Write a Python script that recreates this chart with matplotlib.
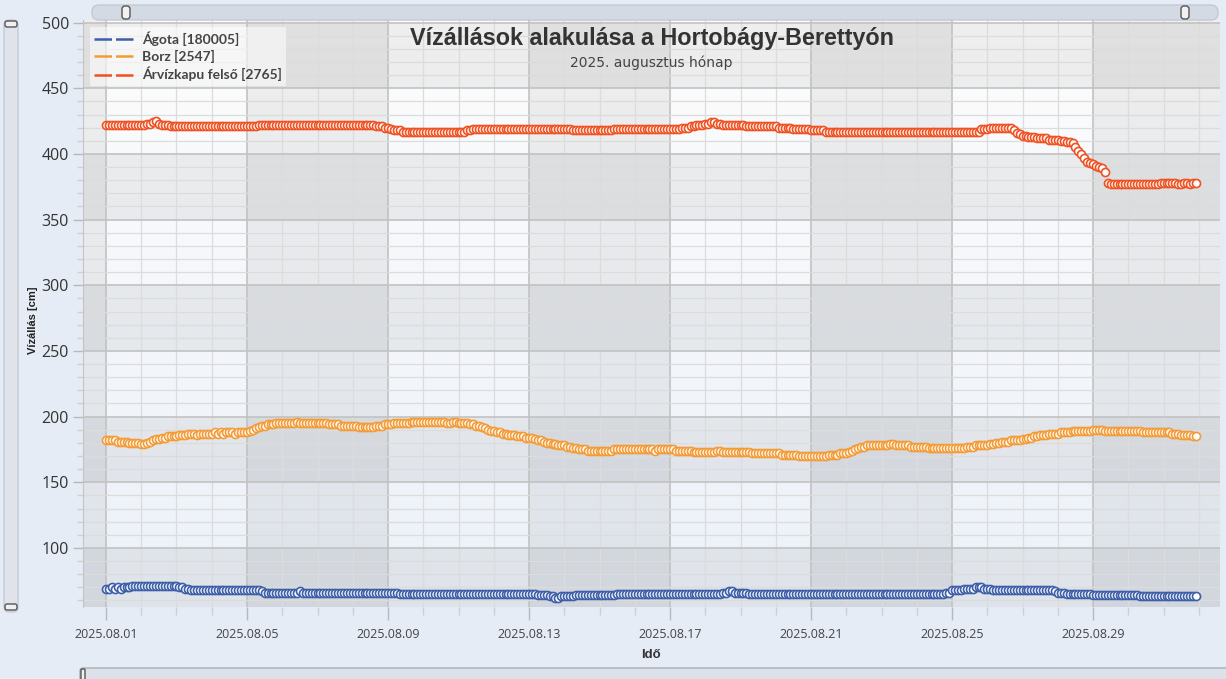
import matplotlib
matplotlib.use('Agg')
import matplotlib.pyplot as plt
import matplotlib.dates as mdates
from matplotlib.lines import Line2D
from matplotlib.patches import FancyBboxPatch
from matplotlib.ticker import MultipleLocator
import numpy as np
import pandas as pd

# 2-hourly readings, 2025.08.01 00:00 -> 2025.08.31 22:00 (12 values per day)
times = pd.date_range('2025-08-01 00:00', periods=372, freq='2h')

agota = [
    69, 69, 70, 69, 70, 69, 70, 70, 70, 71, 71, 71,
    71, 71, 71, 71, 71, 71, 71, 71, 71, 71, 71, 71,
    71, 70, 70, 69, 69, 68, 68, 68, 68, 68, 68, 68,
    68, 68, 68, 68, 68, 68, 68, 68, 68, 68, 68, 68,
    68, 68, 68, 68, 68, 67, 66, 66, 66, 66, 66, 66,
    66, 66, 66, 66, 66, 66, 67, 66, 66, 66, 66, 66,
    66, 66, 66, 66, 66, 66, 66, 66, 66, 66, 66, 66,
    66, 66, 66, 66, 66, 66, 66, 66, 66, 66, 66, 66,
    66, 66, 66, 66, 65, 65, 65, 65, 65, 65, 65, 65,
    65, 65, 65, 65, 65, 65, 65, 65, 65, 65, 65, 65,
    65, 65, 65, 65, 65, 65, 65, 65, 65, 65, 65, 65,
    65, 65, 65, 65, 65, 65, 65, 65, 65, 65, 65, 65,
    65, 65, 65, 64, 64, 64, 64, 63, 63, 62, 62, 63,
    63, 63, 63, 63, 64, 64, 64, 64, 64, 64, 64, 64,
    64, 64, 64, 64, 64, 64, 65, 65, 65, 65, 65, 65,
    65, 65, 65, 65, 65, 65, 65, 65, 65, 65, 65, 65,
    65, 65, 65, 65, 65, 65, 65, 65, 65, 65, 65, 65,
    65, 65, 65, 65, 65, 65, 66, 66, 67, 67, 66, 66,
    66, 66, 66, 65, 65, 65, 65, 65, 65, 65, 65, 65,
    65, 65, 65, 65, 65, 65, 65, 65, 65, 65, 65, 65,
    65, 65, 65, 65, 65, 65, 65, 65, 65, 65, 65, 65,
    65, 65, 65, 65, 65, 65, 65, 65, 65, 65, 65, 65,
    65, 65, 65, 65, 65, 65, 65, 65, 65, 65, 65, 65,
    65, 65, 65, 65, 65, 65, 65, 65, 65, 65, 66, 66,
    68, 68, 68, 68, 69, 69, 69, 69, 70, 70, 70, 69,
    69, 69, 68, 68, 68, 68, 68, 68, 68, 68, 68, 68,
    68, 68, 68, 68, 68, 68, 68, 68, 68, 68, 68, 67,
    66, 66, 66, 65, 65, 65, 65, 65, 65, 65, 65, 65,
    64, 64, 64, 64, 64, 64, 64, 64, 64, 64, 64, 64,
    64, 64, 64, 64, 63, 63, 63, 63, 63, 63, 63, 63,
    63, 63, 63, 63, 63, 63, 63, 63, 63, 63, 63, 63,
]

borz = [
    182, 182, 182, 182, 181, 181, 181, 181, 180, 180, 180, 180,
    179, 179, 180, 181, 182, 183, 183, 184, 184, 185, 185, 185,
    185, 186, 186, 186, 187, 187, 187, 186, 187, 187, 187, 187,
    187, 188, 187, 188, 187, 188, 188, 188, 187, 188, 188, 188,
    188, 189, 190, 191, 192, 193, 193, 194, 194, 194, 195, 195,
    195, 195, 195, 195, 195, 196, 195, 195, 195, 195, 195, 195,
    195, 195, 195, 195, 194, 194, 194, 194, 193, 193, 193, 193,
    193, 193, 192, 192, 192, 192, 192, 192, 193, 193, 193, 194,
    194, 194, 195, 195, 195, 195, 195, 195, 196, 196, 196, 196,
    196, 196, 196, 196, 196, 196, 196, 196, 195, 195, 196, 196,
    195, 195, 195, 195, 194, 194, 193, 193, 192, 191, 190, 189,
    189, 188, 188, 187, 187, 186, 186, 186, 185, 185, 185, 184,
    184, 184, 183, 182, 182, 181, 180, 180, 179, 179, 178, 178,
    178, 177, 177, 176, 176, 175, 175, 175, 174, 174, 174, 174,
    174, 174, 174, 174, 174, 175, 175, 175, 175, 175, 175, 175,
    175, 175, 175, 175, 175, 175, 175, 174, 175, 175, 175, 175,
    175, 175, 174, 174, 174, 174, 174, 174, 173, 173, 173, 173,
    173, 173, 173, 173, 174, 174, 173, 173, 173, 173, 173, 173,
    173, 173, 173, 173, 172, 172, 172, 172, 172, 172, 172, 172,
    172, 172, 171, 171, 171, 171, 171, 171, 170, 170, 170, 170,
    170, 170, 170, 170, 170, 170, 171, 171, 171, 171, 172, 172,
    172, 173, 174, 175, 176, 177, 177, 178, 178, 178, 178, 178,
    178, 178, 178, 179, 179, 178, 178, 178, 178, 178, 177, 177,
    177, 177, 177, 177, 176, 176, 176, 176, 176, 176, 176, 176,
    176, 176, 176, 176, 176, 177, 177, 177, 178, 178, 178, 178,
    178, 179, 179, 180, 180, 181, 181, 181, 182, 182, 182, 182,
    183, 183, 184, 184, 185, 185, 186, 186, 186, 187, 187, 187,
    187, 188, 188, 188, 188, 189, 189, 189, 189, 189, 189, 189,
    190, 190, 190, 190, 189, 189, 189, 189, 189, 189, 189, 189,
    189, 189, 189, 189, 189, 188, 188, 188, 188, 188, 188, 188,
    188, 188, 188, 187, 187, 187, 186, 186, 186, 186, 185, 185,
]

arvizkapu = [
    422, 422, 422, 422, 422, 422, 422, 422, 422, 422, 422, 422,
    422, 422, 423, 423, 424, 425, 423, 422, 422, 422, 421, 421,
    421, 421, 421, 421, 421, 421, 421, 421, 421, 421, 421, 421,
    421, 421, 421, 421, 421, 421, 421, 421, 421, 421, 421, 421,
    421, 421, 421, 421, 422, 422, 422, 422, 422, 422, 422, 422,
    422, 422, 422, 422, 422, 422, 422, 422, 422, 422, 422, 422,
    422, 422, 422, 422, 422, 422, 422, 422, 422, 422, 422, 422,
    422, 422, 422, 422, 422, 422, 422, 422, 421, 421, 421, 420,
    420, 419, 418, 418, 418, 417, 417, 417, 417, 417, 417, 417,
    417, 417, 417, 417, 417, 417, 417, 417, 417, 417, 417, 417,
    417, 417, 417, 418, 418, 419, 419, 419, 419, 419, 419, 419,
    419, 419, 419, 419, 419, 419, 419, 419, 419, 419, 419, 419,
    419, 419, 419, 419, 419, 419, 419, 419, 419, 419, 419, 419,
    419, 419, 419, 418, 418, 418, 418, 418, 418, 418, 418, 418,
    418, 418, 418, 418, 418, 419, 419, 419, 419, 419, 419, 419,
    419, 419, 419, 419, 419, 419, 419, 419, 419, 419, 419, 419,
    419, 419, 419, 419, 420, 420, 420, 421, 421, 422, 422, 422,
    423, 423, 424, 424, 423, 423, 422, 422, 422, 422, 422, 422,
    422, 422, 421, 421, 421, 421, 421, 421, 421, 421, 421, 421,
    421, 420, 420, 420, 420, 420, 419, 419, 419, 419, 419, 419,
    418, 418, 418, 418, 418, 417, 417, 417, 417, 417, 417, 417,
    417, 417, 417, 417, 417, 417, 417, 417, 417, 417, 417, 417,
    417, 417, 417, 417, 417, 417, 417, 417, 417, 417, 417, 417,
    417, 417, 417, 417, 417, 417, 417, 417, 417, 417, 417, 417,
    417, 417, 417, 417, 417, 417, 417, 417, 417, 417, 419, 419,
    419, 420, 420, 420, 420, 420, 420, 420, 420, 418, 416, 415,
    414, 414, 413, 413, 413, 412, 412, 412, 412, 411, 411, 411,
    411, 410, 410, 409, 409, 408, 405, 402, 400, 397, 394, 393,
    392, 391, 390, 389, 386, 378, 377, 377, 377, 377, 377, 377,
    377, 377, 377, 377, 377, 377, 377, 377, 377, 377, 377, 378,
    378, 378, 378, 378, 378, 377, 377, 378, 378, 377, 378, 378,
]

series_names = ['Ágota [180005]', 'Borz [2547]', 'Árvízkapu felső [2765]']
series_colors = ['#3d5fa8', '#f39b36', '#ef5222']
tick_days = ['2025-08-01', '2025-08-05', '2025-08-09', '2025-08-13',
             '2025-08-17', '2025-08-21', '2025-08-25', '2025-08-29']
y_ticks = [100, 150, 200, 250, 300, 350, 400, 450, 500]

W, H = 1226, 679
fig = plt.figure(figsize=(W / 100, H / 100), dpi=100, facecolor='#e6ecf6')
ax = fig.add_axes([83 / W, 72 / H, 1137 / W, 587 / H])

for vals, name, col in zip([agota, borz, arvizkapu], series_names, series_colors):
    ax.plot(times, vals, ls='none', marker='o', ms=5.8, mfc='white',
            mec=col, mew=1.2, zorder=3)

t0 = mdates.date2num(np.datetime64('2025-08-01'))
x0, x1 = t0 - 0.652, t0 + 31.6
y0, y1 = 55, 502

# background gradient + alternating bands
grad = np.linspace([0.99, 0.99, 0.99], [0.925, 0.945, 0.975], 200).reshape(200, 1, 3)
ax.imshow(grad, extent=[x0, x1, y0, y1], aspect='auto', zorder=0.1)
ax.axvspan(x0, t0, color='black', alpha=0.055, lw=0, zorder=0.2)
for d in [4, 12, 20, 28]:
    ax.axvspan(t0 + d, min(t0 + d + 4, x1), color='black', alpha=0.055, lw=0, zorder=0.2)
for lo in [50, 150, 250, 350, 450]:
    ax.axhspan(max(lo, y0), lo + 50, color='black', alpha=0.055, lw=0, zorder=0.2)

ax.set_xlim(x0, x1)
ax.set_ylim(y0, y1)

ax.set_xticks([mdates.date2num(np.datetime64(d)) for d in tick_days])
ax.xaxis.set_major_formatter(mdates.DateFormatter('%Y.%m.%d'))
ax.xaxis.set_minor_locator(mdates.DayLocator())
ax.set_yticks(y_ticks)
ax.yaxis.set_minor_locator(MultipleLocator(10))

ax.set_axisbelow(True)
ax.grid(which='major', color='#c2c2c2', lw=1.2)
ax.grid(which='minor', color='#dcdcdc', lw=0.9)

for s in ['top', 'right', 'bottom']:
    ax.spines[s].set_visible(False)
ax.spines['left'].set_color('#c4c4c4')

ax.tick_params(axis='x', which='major', length=9, width=1, color='#b8b8b8',
               pad=6, labelsize=9, labelcolor='#444444')
ax.tick_params(axis='x', which='minor', length=6, width=1, color='#cfcfcf')
ax.tick_params(axis='y', which='major', length=7, width=1, color='#b8b8b8',
               pad=3, labelsize=11.5, labelcolor='#333333')
ax.tick_params(axis='y', which='minor', length=4, width=1, color='#cfcfcf')
for lab in ax.get_xticklabels() + ax.get_yticklabels():
    lab.set_family('Open Sans')

ax.text(0.5, 0.969, 'Vízállások alakulása a Hortobágy-Berettyón', transform=ax.transAxes,
        ha='center', va='center', fontsize=16.8, fontweight='bold',
        family='Liberation Sans', color='#333333', zorder=5)
ax.text(0.5, 0.928, '2025. augusztus hónap', transform=ax.transAxes,
        ha='center', va='center', fontsize=10, family='DejaVu Sans',
        color='#444444', zorder=5)

fig.text(33 / W, 1 - 320 / H, 'Vízállás [cm]', rotation=90, ha='center', va='center',
         fontsize=8, fontweight='bold', family='Liberation Sans', color='#222222')
fig.text(651 / W, 1 - 655 / H, 'Idő', ha='center', va='center',
         fontsize=9.5, fontweight='bold', family='Liberation Sans', color='#333333')

handles = [Line2D([], [], color=c, lw=1.8, ls=(0, (7, 1.6))) for c in series_colors]
leg = ax.legend(handles, series_names, loc='upper left', bbox_to_anchor=(0.0, 1.0),
                frameon=True, facecolor='white', framealpha=0.55, edgecolor='none',
                fancybox=False, handlelength=2.9, handletextpad=0.55, labelspacing=0.3,
                borderpad=0.3, prop={'family': 'Lato', 'weight': 'bold', 'size': 10})
for t in leg.get_texts():
    t.set_color('#444444')
leg.set_zorder(6)


def rbox(x, y, w, h, fc, ec, r):
    p = FancyBboxPatch((x, H - y - h), w, h, boxstyle=f'round,pad=0,rounding_size={r}',
                       fc=fc, ec=ec, lw=1, transform=None)
    fig.add_artist(p)


# scrollbars around the chart
rbox(92, 5, 1126, 15, '#d4dae4', '#c2c9d4', 7)
rbox(122, 6, 8, 13, '#f2f2f2', '#555555', 3)
rbox(1181, 6, 8, 13, '#f2f2f2', '#555555', 3)
rbox(4, 20, 14, 592, '#e0e4ea', '#c6cad2', 5)
rbox(5, 21, 12, 6, '#f0f0f0', '#555555', 2)
rbox(5, 604, 12, 6, '#f0f0f0', '#555555', 2)
rbox(80, 668, 1160, 20, '#dde2ea', '#a8aeb8', 3)
rbox(81, 669, 4, 12, '#f0f0f0', '#555555', 1)

fig.savefig('out.png', dpi=100, facecolor=fig.get_facecolor())
